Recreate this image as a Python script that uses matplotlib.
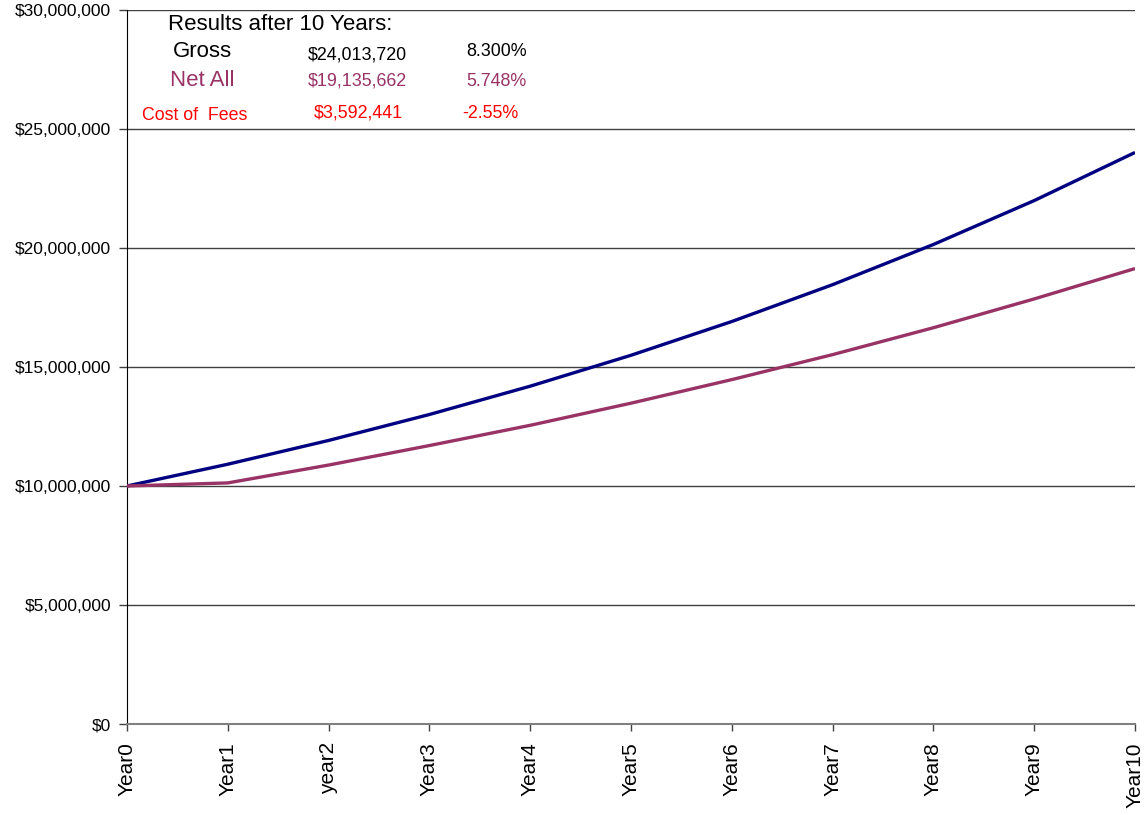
import matplotlib
matplotlib.use("Agg")
import matplotlib.pyplot as plt
from matplotlib.ticker import FuncFormatter

plt.rcParams['font.family'] = ['Liberation Sans', 'DejaVu Sans']

years = ["Year0", "Year1", "year2", "Year3", "Year4", "Year5", "Year6",
         "Year7", "Year8", "Year9", "Year10"]
gross = [10.0, 10.915, 11.914, 13.004, 14.194, 15.493, 16.911, 18.459,
         20.148, 21.992, 24.014]  # millions
net_all = [10.0, 10.13, 10.88, 11.70, 12.55, 13.48, 14.47, 15.52,
           16.65, 17.86, 19.136]  # millions

summary_labels = ["Gross", "Net All", "Cost of  Fees"]
summary_values = ["$24,013,720", "$19,135,662", "$3,592,441"]
summary_rates = ["8.300%", "5.748%", "-2.55%"]

W, H = 1145, 815
fig = plt.figure(figsize=(W / 100, H / 100), dpi=100)
ax = fig.add_axes([127 / W, 1 - 724 / H, (1135 - 127) / W, (724 - 10) / H])

x = list(range(len(years)))
ax.plot(x, [v * 1e6 for v in gross], color="#000080", lw=2.4, solid_capstyle="butt", zorder=3)
ax.plot(x, [v * 1e6 for v in net_all], color="#993366", lw=2.4, solid_capstyle="butt", zorder=3)

ax.set_xlim(0, len(years) - 1)
ax.set_ylim(0, 30e6)
ax.set_yticks([i * 5e6 for i in range(7)])
ax.yaxis.set_major_formatter(FuncFormatter(lambda v, p: "${:,.0f}".format(v)))
ax.set_xticks(x)
ax.set_xticklabels(years, rotation=90, fontsize=15)
ax.tick_params(axis='y', labelsize=12.5, length=6, width=1, color="#404040", pad=5.5)
ax.tick_params(axis='x', length=5, width=1, color="#404040", pad=8)
ax.grid(axis='y', color="#404040", lw=1)
ax.set_axisbelow(True)
for s in ["top", "right"]:
    ax.spines[s].set_visible(False)
ax.spines["left"].set_color("black")
ax.spines["bottom"].set_color("#808080")
ax.spines["bottom"].set_linewidth(1.5)


def ft(px, py, s, size, color="black"):
    fig.text(px / W, 1 - py / H, s, fontsize=size, color=color, ha="left", va="baseline")


ft(168, 30, "Results after 10 Years:", 16)
colors = ["black", "#993366", "#FF0000"]
label_pos = [(173, 57, 16), (170, 86, 16), (142, 120, 12.8)]
value_pos = [(308, 59), (308, 86), (314, 118)]
rate_pos = [(466, 56), (466, 86), (462, 118)]
for i in range(3):
    lx, ly, ls = label_pos[i]
    ft(lx, ly, summary_labels[i], ls, colors[i])
    ft(value_pos[i][0], value_pos[i][1], summary_values[i], 12.9, colors[i])
    ft(rate_pos[i][0], rate_pos[i][1], summary_rates[i], 12.9, colors[i])

fig.savefig("out.png", dpi=100)
